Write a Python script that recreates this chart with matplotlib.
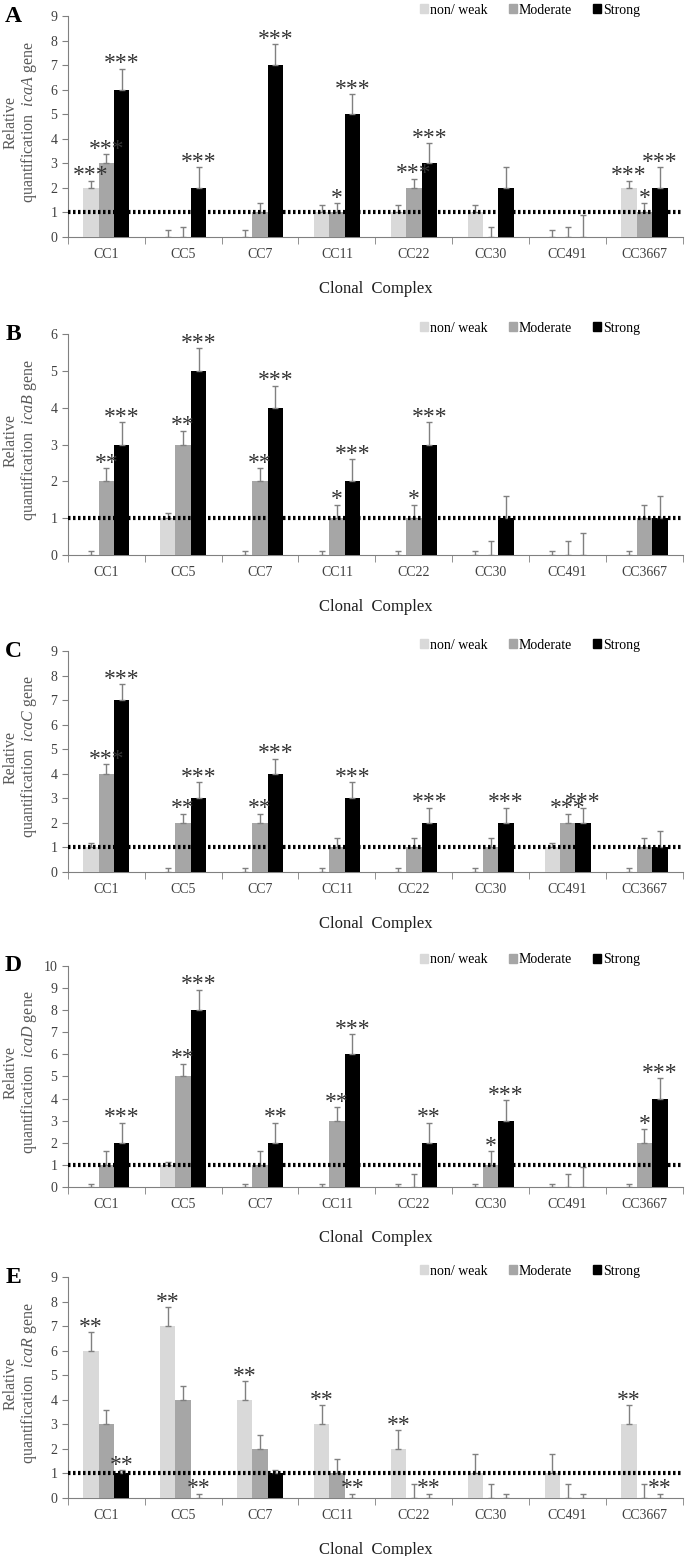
import matplotlib
matplotlib.use("Agg")
import matplotlib.pyplot as plt
from matplotlib.patches import Patch
import numpy as np

plt.rcParams['font.family'] = ['Liberation Serif', 'DejaVu Serif']
plt.rcParams['mathtext.fontset'] = 'custom'
plt.rcParams['mathtext.rm'] = 'Liberation Serif'
plt.rcParams['mathtext.it'] = 'Liberation Serif:italic'

categories = ["CC1", "CC5", "CC7", "CC11", "CC22", "CC30", "CC491", "CC3667"]
series_names = ["non/ weak", "Moderate", "Strong"]

# icaA
nw_A = [2, 0, 0, 1, 1, 1, 0, 2]
mod_A = [3, 0, 1, 1, 2, 0, 0, 1]
str_A = [6, 2, 7, 5, 3, 2, 0, 2]
nw_A_err = [0.3, 0.3, 0.3, 0.3, 0.3, 0.3, 0.3, 0.3]
mod_A_err = [0.38, 0.4, 0.38, 0.38, 0.38, 0.4, 0.4, 0.38]
str_A_err = [0.85, 0.85, 0.85, 0.82, 0.82, 0.85, 0.88, 0.85]
nw_A_sig = ["***", "", "", "", "", "", "", "***"]
mod_A_sig = ["***", "", "", "*", "***", "", "", "*"]
str_A_sig = ["***", "***", "***", "***", "***", "", "", "***"]

# icaB
nw_B = [0, 1, 0, 0, 0, 0, 0, 0]
mod_B = [2, 3, 2, 1, 1, 0, 0, 1]
str_B = [3, 5, 4, 2, 3, 1, 0, 1]
nw_B_err = [0.12, 0.13, 0.12, 0.12, 0.12, 0.12, 0.12, 0.12]
mod_B_err = [0.35, 0.37, 0.35, 0.37, 0.37, 0.37, 0.37, 0.37]
str_B_err = [0.6, 0.62, 0.6, 0.6, 0.6, 0.6, 0.6, 0.6]
nw_B_sig = ["", "", "", "", "", "", "", ""]
mod_B_sig = ["**", "**", "**", "*", "*", "", "", ""]
str_B_sig = ["***", "***", "***", "***", "***", "", "", ""]

# icaC
nw_C = [1, 0, 0, 0, 0, 0, 1, 0]
mod_C = [4, 2, 2, 1, 1, 1, 2, 1]
str_C = [7, 3, 4, 3, 2, 2, 2, 1]
nw_C_err = [0.17, 0.17, 0.17, 0.17, 0.17, 0.17, 0.17, 0.17]
mod_C_err = [0.38, 0.38, 0.38, 0.38, 0.38, 0.38, 0.38, 0.38]
str_C_err = [0.65, 0.65, 0.62, 0.65, 0.62, 0.62, 0.62, 0.65]
nw_C_sig = ["", "", "", "", "", "", "", ""]
mod_C_sig = ["***", "**", "**", "", "", "", "***", ""]
str_C_sig = ["***", "***", "***", "***", "***", "***", "***", ""]

# icaD
nw_D = [0, 1, 0, 0, 0, 0, 0, 0]
mod_D = [1, 5, 1, 3, 0, 1, 0, 2]
str_D = [2, 8, 2, 6, 2, 3, 0, 4]
nw_D_err = [0.15, 0.15, 0.15, 0.15, 0.15, 0.15, 0.15, 0.15]
mod_D_err = [0.62, 0.58, 0.62, 0.6, 0.58, 0.62, 0.58, 0.6]
str_D_err = [0.9, 0.92, 0.9, 0.9, 0.9, 0.92, 0.92, 0.92]
nw_D_sig = ["", "", "", "", "", "", "", ""]
mod_D_sig = ["", "**", "", "**", "", "*", "", "*"]
str_D_sig = ["***", "***", "**", "***", "**", "***", "", "***"]

# icaR
nw_E = [6, 7, 4, 3, 2, 1, 1, 3]
mod_E = [3, 4, 2, 1, 0, 0, 0, 0]
str_E = [1, 0, 1, 0, 0, 0, 0, 0]
nw_E_err = [0.75, 0.78, 0.75, 0.78, 0.75, 0.78, 0.78, 0.78]
mod_E_err = [0.58, 0.55, 0.55, 0.58, 0.57, 0.57, 0.57, 0.57]
str_E_err = [0.13, 0.17, 0.13, 0.17, 0.17, 0.17, 0.17, 0.17]
nw_E_sig = ["**", "**", "**", "**", "**", "", "", "**"]
mod_E_sig = ["", "", "", "", "", "", "", ""]
str_E_sig = ["**", "**", "", "**", "**", "", "", "**"]

colors = ["#d9d9d9", "#a6a6a6", "#000000"]
text_col = "#404040"
axis_col = "#808080"


def draw_panel(ax, letter, gene, ymax, vals, errs, sigs):
    x = np.arange(len(categories))
    width = 0.2
    for i in range(3):
        xs = x + (i - 1) * width
        ax.bar(xs, vals[i], width=width, color=colors[i], zorder=3)
        ax.errorbar(xs, vals[i], yerr=[np.zeros(len(xs)), errs[i]], fmt="none",
                    ecolor=axis_col, elinewidth=1, capsize=2.5, capthick=1, zorder=4)
        for k in range(len(xs)):
            if sigs[i][k]:
                ax.annotate(sigs[i][k], (xs[k], vals[i][k] + errs[i][k]),
                            xytext=(0, -4), textcoords="offset points",
                            ha="center", va="bottom", fontsize=17,
                            color="#333333", zorder=5)
    ax.axhline(1, color="black", lw=3, ls=(0, (0.6, 0.6)), zorder=6)
    ax.set_xlim(-0.5, len(categories) - 0.5)
    ax.set_ylim(0, ymax)
    ax.set_yticks(range(ymax + 1))
    ax.set_xticks(x)
    ax.set_xticklabels(categories)
    ax.set_xticks(np.arange(-0.5, len(categories)), minor=True)
    ax.tick_params(axis="x", which="major", length=0, pad=8)
    ax.tick_params(axis="x", which="minor", length=5, color=axis_col)
    ax.tick_params(axis="y", length=4, color=axis_col)
    ax.tick_params(labelsize=10, labelcolor=text_col)
    for s in ["top", "right"]:
        ax.spines[s].set_visible(False)
    for s in ["left", "bottom"]:
        ax.spines[s].set_color(axis_col)
    ax.set_xlabel("Clonal  Complex", fontsize=12, color="#202020", labelpad=14)
    ax.set_ylabel("Relative\nquantification  $\\it{" + gene + "}$ gene",
                  fontsize=11.5, color="#595959", linespacing=1.0)
    ax.yaxis.set_label_coords(-0.047, 0.52)
    ax.text(-0.075, 1.0, letter, transform=ax.transAxes, fontsize=17,
            fontweight="bold", ha="right", va="center")
    handles = [Patch(color=c) for c in colors]
    ax.legend(handles, series_names, loc="center right", bbox_to_anchor=(0.94, 1.027),
              ncol=3, frameon=False, fontsize=10, handlelength=0.6, handleheight=0.6,
              handletextpad=0.15, columnspacing=1.5, borderaxespad=0)


fig = plt.figure(figsize=(6.85, 15.56), dpi=100)
bottoms = [0.8477, 0.6433, 0.4396, 0.2372, 0.0373]
panels = [
    ("A", "icaA", 9, [nw_A, mod_A, str_A], [nw_A_err, mod_A_err, str_A_err], [nw_A_sig, mod_A_sig, str_A_sig]),
    ("B", "icaB", 6, [nw_B, mod_B, str_B], [nw_B_err, mod_B_err, str_B_err], [nw_B_sig, mod_B_sig, str_B_sig]),
    ("C", "icaC", 9, [nw_C, mod_C, str_C], [nw_C_err, mod_C_err, str_C_err], [nw_C_sig, mod_C_sig, str_C_sig]),
    ("D", "icaD", 10, [nw_D, mod_D, str_D], [nw_D_err, mod_D_err, str_D_err], [nw_D_sig, mod_D_sig, str_D_sig]),
    ("E", "icaR", 9, [nw_E, mod_E, str_E], [nw_E_err, mod_E_err, str_E_err], [nw_E_sig, mod_E_sig, str_E_sig]),
]
for b, p in zip(bottoms, panels):
    ax = fig.add_axes([0.099, b, 0.898, 0.142])
    draw_panel(ax, *p)

fig.savefig("out.png", dpi=100)
